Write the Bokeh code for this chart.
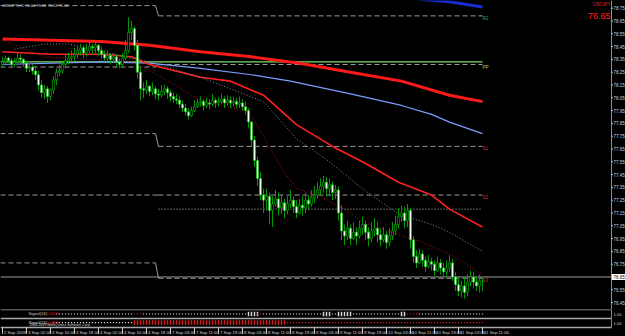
from bokeh.plotting import figure
from bokeh.models import Range1d, ColumnDataSource
from bokeh.layouts import column
from bokeh.embed import file_html
from bokeh.resources import INLINE
from bokeh.core.properties import value

# ---- hourly candles ----
closes = [78.33, 78.36, 78.34, 78.31, 78.33, 78.36, 78.35, 78.32, 78.28, 78.29, 78.26, 78.23,
          78.15, 78.09, 78.12, 78.06, 78.11, 78.19, 78.25, 78.26, 78.31, 78.34, 78.36, 78.37,
          78.39, 78.42, 78.44, 78.40, 78.42, 78.45, 78.44, 78.46, 78.42, 78.39, 78.36, 78.38,
          78.35, 78.37, 78.33, 78.31, 78.36, 78.42, 78.56, 78.59, 78.46, 78.25, 78.12, 78.11,
          78.14, 78.10, 78.12, 78.08, 78.07, 78.10, 78.12, 78.09, 78.06, 78.04, 78.03, 78.00,
          77.97, 77.94, 77.91, 77.95, 77.98, 78.01, 78.02, 77.99, 78.01, 78.00, 78.03, 78.01,
          78.02, 78.04, 78.01, 78.03, 78.01, 78.02, 78.00, 78.01, 77.98, 77.95, 77.86, 77.72,
          77.56, 77.42, 77.29, 77.25, 77.28, 77.17, 77.22, 77.26, 77.19, 77.23, 77.17, 77.22,
          77.25, 77.20, 77.15, 77.21, 77.19, 77.25, 77.22, 77.27, 77.29, 77.33, 77.36, 77.39,
          77.34, 77.37, 77.31, 77.33, 77.15, 77.01, 76.97, 77.03, 76.95, 77.00, 76.97, 77.03,
          77.06, 77.00, 76.95, 77.01, 77.03, 76.98, 76.94, 76.98, 76.92, 76.97, 77.01, 77.06,
          77.12, 77.15, 77.09, 77.17, 76.94, 76.81, 76.76, 76.83, 76.78, 76.73, 76.77, 76.75,
          76.70, 76.76, 76.72, 76.69, 76.72, 76.76, 76.65, 76.59, 76.54, 76.58, 76.53, 76.61,
          76.65, 76.61, 76.58, 76.62, 76.62]
highs = [78.37, 78.38, 78.37, 78.36, 78.36, 78.40, 78.39, 78.36, 78.34, 78.33, 78.31, 78.29,
         78.26, 78.19, 78.15, 78.14, 78.12, 78.22, 78.28, 78.31, 78.34, 78.39, 78.40, 78.42,
         78.44, 78.46, 78.47, 78.46, 78.47, 78.49, 78.47, 78.50, 78.47, 78.45, 78.42, 78.42,
         78.40, 78.40, 78.39, 78.36, 78.40, 78.50, 78.68, 78.65, 78.61, 78.50, 78.29, 78.17,
         78.19, 78.15, 78.17, 78.14, 78.12, 78.15, 78.15, 78.14, 78.11, 78.09, 78.08, 78.06,
         78.03, 78.00, 77.97, 77.98, 78.03, 78.04, 78.06, 78.04, 78.05, 78.04, 78.08, 78.05,
         78.06, 78.08, 78.06, 78.07, 78.06, 78.06, 78.05, 78.06, 78.04, 78.02, 77.97, 77.87,
         77.75, 77.59, 77.47, 77.34, 77.34, 77.31, 77.28, 77.33, 77.31, 77.29, 77.26, 77.28,
         77.33, 77.28, 77.25, 77.26, 77.28, 77.31, 77.29, 77.33, 77.36, 77.39, 77.42, 77.44,
         77.43, 77.42, 77.40, 77.37, 77.36, 77.21, 77.06, 77.09, 77.06, 77.08, 77.04, 77.09,
         77.12, 77.09, 77.04, 77.08, 77.11, 77.08, 77.03, 77.04, 77.01, 77.03, 77.08, 77.13,
         77.19, 77.21, 77.20, 77.22, 77.19, 76.97, 76.86, 76.87, 76.86, 76.81, 76.82, 76.80,
         76.78, 76.81, 76.79, 76.76, 76.78, 76.82, 76.79, 76.69, 76.64, 76.62, 76.65, 76.67,
         76.70, 76.69, 76.65, 76.67, 76.65]
lows = [78.29, 78.31, 78.32, 78.29, 78.29, 78.33, 78.32, 78.29, 78.25, 78.25, 78.23, 78.19,
        78.11, 78.05, 78.04, 78.01, 78.03, 78.08, 78.15, 78.22, 78.24, 78.28, 78.31, 78.33,
        78.34, 78.36, 78.38, 78.36, 78.37, 78.40, 78.39, 78.40, 78.38, 78.36, 78.33, 78.34,
        78.31, 78.33, 78.29, 78.28, 78.29, 78.34, 78.40, 78.50, 78.42, 78.20, 78.03, 78.05,
        78.08, 78.06, 78.07, 78.04, 78.03, 78.05, 78.07, 78.04, 78.02, 78.01, 78.00, 77.97,
        77.94, 77.91, 77.88, 77.90, 77.94, 77.97, 77.98, 77.95, 77.97, 77.96, 77.98, 77.97,
        77.98, 78.00, 77.97, 77.99, 77.97, 77.98, 77.97, 77.97, 77.95, 77.92, 77.81, 77.67,
        77.51, 77.36, 77.25, 77.15, 77.17, 77.06, 77.04, 77.20, 77.13, 77.14, 77.11, 77.14,
        77.19, 77.15, 77.11, 77.14, 77.13, 77.15, 77.17, 77.20, 77.23, 77.26, 77.29, 77.31,
        77.28, 77.29, 77.25, 77.26, 77.09, 76.94, 76.90, 76.94, 76.90, 76.94, 76.90, 76.95,
        76.98, 76.94, 76.89, 76.92, 76.97, 76.92, 76.89, 76.92, 76.87, 76.89, 76.94, 76.98,
        77.03, 77.08, 77.03, 77.04, 76.87, 76.76, 76.72, 76.75, 76.73, 76.69, 76.72, 76.70,
        76.66, 76.69, 76.67, 76.64, 76.65, 76.69, 76.62, 76.54, 76.50, 76.49, 76.48, 76.50,
        76.58, 76.56, 76.54, 76.53, 76.54]
opens = [78.31] + closes[:-1]

# ---- moving averages (bar index, price) ----
ma_slow_i = [0, 33, 49, 66, 83, 99, 116, 133, 149, 160]
ma_slow_p = [78.51, 78.49, 78.46, 78.41, 78.37, 78.32, 78.25, 78.18, 78.07, 78.02]
ma_blue_i = [0, 33, 49, 66, 83, 96, 116, 133, 143, 149, 160]
ma_blue_p = [78.31, 78.33, 78.32, 78.28, 78.23, 78.18, 78.08, 77.99, 77.92, 77.86, 77.77]
ma_navy_i = [139, 149, 160]
ma_navy_p = [78.82, 78.80, 78.76]
ma_mid_i = [0, 16, 33, 43, 49, 66, 76, 87, 98, 110, 120, 132, 143, 149, 160]
ma_mid_p = [78.41, 78.39, 78.39, 78.37, 78.31, 78.21, 78.18, 78.07, 77.84, 77.67, 77.55, 77.39, 77.29, 77.18, 77.04]
ma_fast_i = [0, 14, 29, 44, 53, 66, 82, 87, 93, 98, 105, 114, 120, 132, 139, 149, 160]
ma_fast_p = [78.50, 78.37, 78.35, 78.33, 78.21, 78.03, 77.94, 77.75, 77.50, 77.34, 77.29, 77.18, 77.08, 76.98, 76.93, 76.83, 76.67]
ma_gray_i = [4, 14, 22, 33, 49, 66, 76, 87, 98, 109, 120, 132, 143, 149, 160]
ma_gray_p = [78.43, 78.47, 78.47, 78.41, 78.33, 78.21, 78.12, 78.02, 77.73, 77.55, 77.34, 77.14, 77.06, 77.00, 76.85]

# ---- weekly pivot levels ----
prev_levels = [78.77, 78.29, 77.77, 77.29, 76.76]
curr_levels = [78.69, 78.31, 77.67, 77.29, 76.64]
curr_names = ["R1", "PP", "S1", "S2", "S3"]
level_s2_mid = 77.18
green_level = 78.33
week_split = 51
last_bar = 160
bid = 76.65

price_ticks = [round(78.75 - 0.1 * k, 2) for k in range(24)]
time_idx = list(range(0, 161, 8))
time_labels = ["2 Sep 2009", "3 Sep 02:00", "3 Sep 10:00", "3 Sep 18:00", "4 Sep 02:00",
               "4 Sep 10:00", "4 Sep 18:00", "7 Sep 03:00", "7 Sep 11:00", "7 Sep 19:00",
               "8 Sep 03:00", "8 Sep 11:00", "8 Sep 19:00", "9 Sep 03:00", "9 Sep 11:00",
               "9 Sep 19:00", "10 Sep 03:00", "10 Sep 11:00", "10 Sep 19:00", "11 Sep 03:00",
               "11 Sep 11:00"]

# ---- indicator panels: runs of (first bar, last bar, kind) ----
ind1_runs = [(18, 43, "w"), (44, 46, "r"), (47, 81, "w"), (82, 85, "W"), (85, 86, "r"),
             (87, 106, "w"), (107, 109, "W"), (110, 111, "w"), (112, 116, "W"), (117, 132, "w"),
             (133, 134, "W"), (135, 138, "r"), (139, 160, "w")]
ind2_runs = [(17, 43, "w"), (44, 94, "R"), (95, 160, "r")]

W = 625
FONT = "Liberation Sans"
xr = Range1d(-2 / 3, (W - 2) / 3)
axis_x = 203
p_top = 78.81
MAIN_H = 309
p_bot = p_top - MAIN_H / 128.0
GRID = "#8c8c8c"
TXT = "#d0d0d0"
SEP = "#a8a8a8"


def base(h, yr):
    f = figure(width=W, height=h, x_range=xr, y_range=yr, output_backend="svg",
               toolbar_location=None, min_border=0, x_axis_location=None, y_axis_location=None)
    f.background_fill_color = "black"
    f.border_fill_color = "black"
    f.outline_line_color = None
    f.grid.visible = False
    return f


p = base(MAIN_H, Range1d(p_bot, p_top))

# right price scale
p.line([axis_x, axis_x], [p_bot, p_top], line_color=GRID, line_width=1)
p.segment(x0=[axis_x] * len(price_ticks), y0=price_ticks, x1=[axis_x + 0.5] * len(price_ticks),
          y1=price_ticks, line_color=TXT, line_width=1)
shown = [t for t in price_ticks if abs(t - bid) > 0.001]
p.text(x=[axis_x + 0.7] * len(shown), y=shown, text=[f"{t:.2f}" for t in shown],
       text_font_size="4.5px", text_color=TXT, text_baseline="middle", text_font=value(FONT))

# pivot lines
for lv in prev_levels:
    p.line([xr.start, week_split], [lv, lv], line_color="#9a9a9a", line_dash="5 3", line_width=1)
for lv in curr_levels:
    p.line([week_split + 1, last_bar], [lv, lv], line_color="#9a9a9a", line_dash="5 3", line_width=1)
for a, b in zip(prev_levels, curr_levels):
    p.line([week_split, week_split + 1], [a, b], line_color="#9a9a9a", line_width=1)
p.line([week_split + 1, last_bar], [level_s2_mid, level_s2_mid], line_color="#bdbdbd", line_dash="1 2")
p.line([xr.start, last_bar], [green_level, green_level], line_color="#7ddc6a", line_width=1.2)
p.line([xr.start, axis_x], [bid, bid], line_color="#9a9a9a", line_width=1)

# moving averages
p.line(ma_slow_i, ma_slow_p, line_color="#ff1a1a", line_width=3)
p.line(ma_navy_i, ma_navy_p, line_color="#1a2cd0", line_width=3)
p.line(ma_blue_i, ma_blue_p, line_color="#7c9cff", line_width=1.2)
p.line(ma_mid_i, ma_mid_p, line_color="#ff2020", line_width=1.6)
p.line(ma_fast_i, ma_fast_p, line_color="#b01818", line_width=1, line_dash="1 2")
p.line(ma_gray_i, ma_gray_p, line_color="#8a8aa0", line_width=1, line_dash="1 2")

# candles
idx = list(range(len(closes)))
bull = [c >= o for o, c in zip(opens, closes)]
src = ColumnDataSource(dict(x=idx, h=highs, l=lows,
                            top=[max(o, c) for o, c in zip(opens, closes)],
                            bot=[min(o, c) for o, c in zip(opens, closes)],
                            fill=["black" if b else "#e8ffe8" for b in bull]))
p.segment(x0="x", y0="l", x1="x", y1="h", source=src, line_color="#009a00", line_width=1)
p.vbar(x="x", width=0.7, top="top", bottom="bot", source=src, fill_color="fill",
       line_color="#00c000", line_width=0.6)

# level labels
p.text(x=[last_bar] * len(curr_levels), y=curr_levels, text=curr_names,
       text_color=["#4caf50", "#c8c850", "#c03030", "#c03030", "#c03030"],
       text_font_size="4.5px", text_baseline="top", text_font=value(FONT))

# bid box on the price scale
p.rect(x=[axis_x + 2.3], y=[bid], width=4.4, height=6 / 128.0, fill_color="white", line_color=None)
p.text(x=[axis_x + 0.7], y=[bid], text=[f"{bid:.2f}"], text_font_size="4.5px", text_color="black",
       text_baseline="middle", text_font=value(FONT))

# header texts
p.text(x=[xr.start + 0.7], y=[p_top - 2 / 128.0], text=["USDJPY,H1 76.64 76.68 76.52 76.62"],
       text_color=TXT, text_font_size="4px", text_baseline="top", text_font=value(FONT))
p.text(x=[axis_x - 0.3], y=[p_top - 1.5 / 128.0], text=["USDJPY"], text_color="#e02020",
       text_font_size="4.5px", text_align="right", text_baseline="top", text_font=value(FONT))
p.text(x=[axis_x - 0.3], y=[p_top - 12 / 128.0], text=[f"{bid:.2f}"], text_color="#ff2020",
       text_font_size="9px", text_align="right", text_baseline="top", text_font=value(FONT))

# ---- bottom strip: two indicator rows + time scale (rows 2..3, 1..2, 0..1) ----
b = base(27, Range1d(0, 3))
for yy in (3, 2, 1):
    b.line([xr.start, axis_x], [yy, yy], line_color=SEP, line_width=1.5)
b.line([axis_x, axis_x], [1, 3], line_color=GRID, line_width=1)

cols = {"w": "#d8d8d8", "r": "#d02020"}


def draw_runs(runs, yc):
    for a, c_, k in runs:
        xs = list(range(a, c_ + 1))
        col = cols[k.lower()]
        if k.isupper():
            b.vbar(x=xs, width=0.5, top=yc + 0.25, bottom=yc - 0.25, fill_color=col, line_color=None)
        else:
            b.scatter(x=xs, y=[yc] * len(xs), size=1.2, marker="square", fill_color=col, line_color=None)


draw_runs(ind1_runs, 2.5)
draw_runs(ind2_runs, 1.55)
b.text(x=[8.7, 8.7], y=[2.52, 1.6], text=["Signal(14)", "Signal(24)"], text_color=TXT,
       text_font_size="4px", text_baseline="middle", text_font=value(FONT))
b.text(x=[14.6, 14.6], y=[2.52, 1.6], text=["0.0000", "0.0000"], text_color="#d02020",
       text_font_size="4px", text_baseline="middle", text_font=value(FONT))
b.text(x=[9.0], y=[1.25], text=["2008-2009 MetaQuotes Software Corp."], text_color=TXT,
       text_font_size="3.5px", text_baseline="middle", text_font=value(FONT))
b.text(x=[axis_x + 0.7, axis_x + 0.7], y=[2.5, 1.5], text=["1.00", "1.00"], text_color=TXT,
       text_font_size="4px", text_baseline="middle", text_font=value(FONT))

b.segment(x0=time_idx, y0=[1] * len(time_idx), x1=time_idx, y1=[0.3] * len(time_idx),
          line_color=TXT, line_width=1)
b.text(x=[i + 0.5 for i in time_idx], y=[0.5] * len(time_idx), text=time_labels,
       text_color=TXT, text_font_size="4.3px", text_baseline="middle", text_font=value(FONT))

layout = column(p, b, spacing=0)
layout.background = "black"
open("out.html", "w").write(file_html(layout, INLINE))
